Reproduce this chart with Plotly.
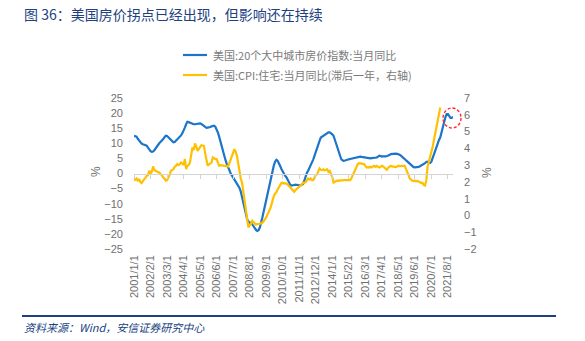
import plotly.graph_objects as go

# Monthly categories 2001/1/1 .. 2021/12/1
categories = [f"{y}/{m}/1" for y in range(2001, 2022) for m in range(1, 13)]

tick_labels = ["2001/1/1", "2002/2/1", "2003/3/1", "2004/4/1", "2005/5/1",
               "2006/6/1", "2007/7/1", "2008/8/1", "2009/9/1", "2010/10/1",
               "2011/11/1", "2012/12/1", "2014/1/1", "2015/2/1", "2016/3/1",
               "2017/4/1", "2018/5/1", "2019/6/1", "2020/7/1", "2021/8/1"]

# 美国:20个大中城市房价指数:当月同比 (%), left axis
house_price_yoy = [
    12.5, 12.4, 12.2, 11.5, 10.9, 10.5, 9.9, 9.7, 9.6, 9.5, 9.2, 8.6,
    7.8, 7.4, 7.2, 7.3, 7.7, 8.3, 9.2, 9.7, 10.1, 10.5, 10.8, 11.4,
    12.0, 12.5, 12.4, 12.0, 11.5, 11.0, 10.6, 10.3, 10.4, 10.8, 11.2, 11.5,
    12.0, 12.6, 13.3, 14.1, 15.2, 16.3, 17.1, 17.0, 16.8, 16.5, 16.4, 16.3,
    16.3, 16.4, 16.5, 16.6, 16.6, 16.4, 16.0, 15.6, 15.3, 15.1, 15.2, 15.2,
    15.4, 15.6, 15.8, 15.8, 15.5, 14.7, 13.6, 12.2, 10.5, 8.8, 7.0, 5.6,
    4.4, 3.2, 2.0, 1.0, 0.1, -0.6, -1.3, -2.0, -2.7, -3.4, -4.0, -4.8,
    -6.0, -7.8, -9.6, -11.5, -13.3, -15.1, -15.8, -16.3, -16.6, -16.8, -17.5, -18.2,
    -18.7, -19.0, -18.8, -17.9, -16.5, -14.6, -12.7, -10.7, -8.9, -7.0, -5.0, -3.0,
    -1.0, 0.9, 2.6, 3.9, 4.5, 4.2, 3.5, 2.5, 1.5, 0.6, -0.2, -0.8,
    -1.3, -2.2, -3.1, -3.8, -4.0, -4.0, -3.8, -3.7, -3.7, -3.8, -3.9, -4.0,
    -3.8, -3.5, -2.4, -1.0, 0.2, 0.9, 1.7, 2.7, 3.6, 4.6, 5.8, 7.2,
    8.6, 9.6, 10.8, 11.9, 12.2, 12.5, 12.8, 13.2, 13.5, 13.6, 13.6, 13.4,
    13.0, 12.5, 11.2, 9.6, 8.1, 6.7, 5.3, 4.8, 4.4, 4.2, 4.3, 4.5,
    4.6, 4.7, 4.8, 4.9, 5.0, 5.1, 5.3, 5.4, 5.5, 5.6, 5.6, 5.5,
    5.4, 5.3, 5.3, 5.2, 5.0, 5.0, 5.0, 5.1, 5.1, 5.2, 5.3, 5.3,
    5.6, 5.9, 5.8, 5.6, 5.7, 5.6, 5.7, 5.8, 5.9, 6.1, 6.4, 6.5,
    6.6, 6.7, 6.6, 6.5, 6.4, 6.2, 5.9, 5.6, 5.2, 4.8, 4.4, 4.0,
    3.6, 3.0, 2.6, 2.3, 2.1, 2.0, 2.0, 2.1, 2.2, 2.4, 2.6, 2.9,
    3.1, 3.4, 3.8, 3.9, 3.7, 3.5, 3.9, 5.2, 6.6, 7.9, 9.1, 10.2,
    11.1, 12.0, 13.4, 14.9, 17.0, 18.6, 19.7, 19.7, 19.1, 18.4, 18.4, 18.8,
]

# 美国:CPI:住宅:当月同比 (滞后一年) (%), right axis
cpi_shelter_yoy = [
    2.07, 2.15, 2.2, 2.05, 2.17, 2.0, 1.93, 2.05, 2.13, 2.25, 2.36, 2.4,
    2.66, 2.5, 2.6, 2.92, 2.7, 2.66, 2.62, 2.6, 2.55, 2.46, 2.4, 2.26,
    2.2, 2.07, 2.1, 2.26, 2.4, 2.66, 2.7, 2.76, 2.9, 2.95, 3.06, 3.0,
    3.05, 3.15, 3.1, 3.0, 3.36, 2.76, 2.95, 3.0, 3.15, 3.6, 4.05, 3.9,
    4.29, 4.1, 3.85, 3.95, 4.05, 4.19, 4.17, 4.15, 3.7, 3.26, 2.96, 3.05,
    3.1, 3.15, 3.45, 3.4, 3.36, 3.36, 3.2, 2.96, 3.0, 2.98, 3.0, 2.95,
    2.92, 2.9, 2.92, 3.1, 3.3, 3.45, 3.75, 3.95, 3.8, 3.55, 3.1, 2.56,
    2.2, 1.96, 1.4, 0.77, 0.3, -0.21, -0.71, -0.6, -0.51, -0.32, -0.4, -0.5,
    -0.55, -0.51, -0.52, -0.5, -0.47, -0.44, -0.35, -0.25, -0.12, 0.05, 0.2, 0.38,
    0.6, 0.98, 1.15, 1.3, 1.37, 1.55, 1.7, 1.81, 1.93, 1.95, 1.9, 1.92,
    1.9, 1.85, 1.75, 1.67, 1.55, 1.45, 1.41, 1.5, 1.57, 1.62, 1.68, 1.73,
    1.85, 1.96, 1.93, 1.98, 2.07, 2.2, 2.15, 2.2, 2.1, 2.1, 2.25, 2.4,
    2.45, 2.65, 2.8, 2.72, 2.7, 2.75, 2.68, 2.72, 2.75, 2.6, 2.65, 2.46,
    2.3, 1.96, 2.0, 2.06, 2.08, 2.05, 2.1, 2.08, 2.1, 2.1, 2.12, 2.1,
    2.1, 2.1, 2.1, 2.2, 2.36, 2.55, 2.76, 2.9, 3.05, 3.12, 3.1, 3.06,
    3.08, 3.06, 2.95, 2.86, 2.88, 2.86, 2.9, 2.86, 2.92, 2.96, 2.9, 2.96,
    2.9, 2.86, 2.9, 2.96, 2.92, 2.86, 2.78, 2.72, 2.85, 2.9, 2.96, 2.92,
    2.9, 2.9, 2.88, 2.92, 2.96, 2.94, 2.96, 2.95, 2.96, 2.96, 2.8, 2.66,
    2.4, 2.2, 2.1, 2.07, 2.05, 2.08, 2.02, 2.05, 2.02, 1.98, 1.93, 1.95,
    1.81, 1.78, 2.1, 2.9, 3.2, 3.4, 3.8, 4.1, 4.5, 4.9, 5.3, 5.7,
    6.0, 6.43, None, None, None, None, None, None, None, None, None, None,
]

BLUE = "#1c75c8"
GOLD = "#ffc000"
GREY_TXT = "#6f6f6f"
NAVY = "#213f7f"
CJK = "Noto Sans CJK SC"
LAT = "Liberation Sans, Arial, sans-serif"

W, H = 585, 341
L, R, T, B = 134, 453, 98, 249


def px(x):
    return (x - L) / (R - L)


def py(y):
    return (B - y) / (B - T)


tick_pos = [categories.index(t) for t in tick_labels]

fig = go.Figure()
fig.add_trace(go.Scatter(x=categories, y=house_price_yoy, mode="lines",
                         line=dict(color=BLUE, width=2.2), showlegend=False,
                         xaxis="x", yaxis="y"))
fig.add_trace(go.Scatter(x=categories, y=cpi_shelter_yoy, mode="lines",
                         line=dict(color=GOLD, width=2.2), showlegend=False,
                         connectgaps=False, xaxis="x2", yaxis="y2"))

fig.update_layout(
    width=W, height=H,
    margin=dict(l=L, r=W - R, t=T, b=H - B),
    paper_bgcolor="white", plot_bgcolor="white",
    font=dict(family=LAT, size=11, color=GREY_TXT),
    xaxis=dict(type="category", categoryorder="array", categoryarray=categories,
               range=[0, len(categories) - 1], showgrid=False, zeroline=False,
               showline=False, ticks="", tickmode="array",
               tickvals=[categories[i] for i in tick_pos], ticktext=tick_labels,
               tickangle=-90, tickfont=dict(size=11, color=GREY_TXT),
               ticklabelstandoff=3),
    xaxis2=dict(type="category", categoryorder="array", categoryarray=categories,
                overlaying="x", anchor="free", position=0.5,
                range=[0, len(categories) - 1], showgrid=False, zeroline=False,
                showline=True, linecolor="#d4d4d4", linewidth=1,
                ticks="outside", ticklen=4, tickcolor="#d4d4d4", tickwidth=1,
                tickmode="array", tickvals=[categories[i] for i in tick_pos],
                showticklabels=False),
    yaxis=dict(range=[-25, 25], dtick=5, tick0=0, showgrid=False, zeroline=False,
               showline=False, ticks="", tickfont=dict(size=11, color=GREY_TXT),
               ticklabelstandoff=10),
    yaxis2=dict(range=[-2, 7], dtick=1, tick0=0, overlaying="y", side="right",
                anchor="x", showgrid=False, zeroline=False, showline=False,
                ticks="", tickfont=dict(size=11, color=GREY_TXT),
                ticklabelstandoff=10),
)

annotations = [
    # title
    dict(text="图 36：美国房价拐点已经出现，但影响还在持续", x=px(22), y=py(14),
         xanchor="left", yanchor="middle", showarrow=False,
         font=dict(family=CJK, size=14, color=NAVY)),
    # legend texts
    dict(text="美国:20个大中城市房价指数:当月同比", x=px(211), y=py(55),
         xanchor="left", yanchor="middle", showarrow=False,
         font=dict(family=CJK, size=11, color="#7a7a7a")),
    dict(text="美国:CPI:住宅:当月同比(滞后一年，右轴)", x=px(211), y=py(75),
         xanchor="left", yanchor="middle", showarrow=False,
         font=dict(family=CJK, size=11, color="#7a7a7a")),
    # axis titles
    dict(text="%", x=px(96), y=py(172), xanchor="center", yanchor="middle",
         textangle=-90, showarrow=False, font=dict(size=12, color=GREY_TXT)),
    dict(text="%", x=px(487), y=py(172), xanchor="center", yanchor="middle",
         textangle=-90, showarrow=False, font=dict(size=12, color=GREY_TXT)),
    # source
    dict(text="<i>资料来源：Wind，安信证券研究中心</i>", x=px(22), y=py(327),
         xanchor="left", yanchor="middle", showarrow=False,
         font=dict(family=CJK, size=11, color=NAVY)),
]
for a in annotations:
    a.update(xref="paper", yref="paper")
fig.update_layout(annotations=annotations)

shapes = [
    dict(type="line", x0=px(183), x1=px(207), y0=py(55), y1=py(55),
         line=dict(color=BLUE, width=2.2)),
    dict(type="line", x0=px(183), x1=px(207), y0=py(75), y1=py(75),
         line=dict(color=GOLD, width=2.2)),
    # highlight around the latest readings
    dict(type="circle", x0=px(443), x1=px(461), y0=py(108), y1=py(128),
         line=dict(color="#ff2a2a", width=1.4, dash="3px,2px"), layer="above"),
    # footer rule
    dict(type="line", x0=px(22), x1=px(556), y0=py(316), y1=py(316),
         line=dict(color=NAVY, width=2)),
]
for s in shapes:
    s.update(xref="paper", yref="paper")
fig.update_layout(shapes=shapes)

fig.write_html("out.html")
